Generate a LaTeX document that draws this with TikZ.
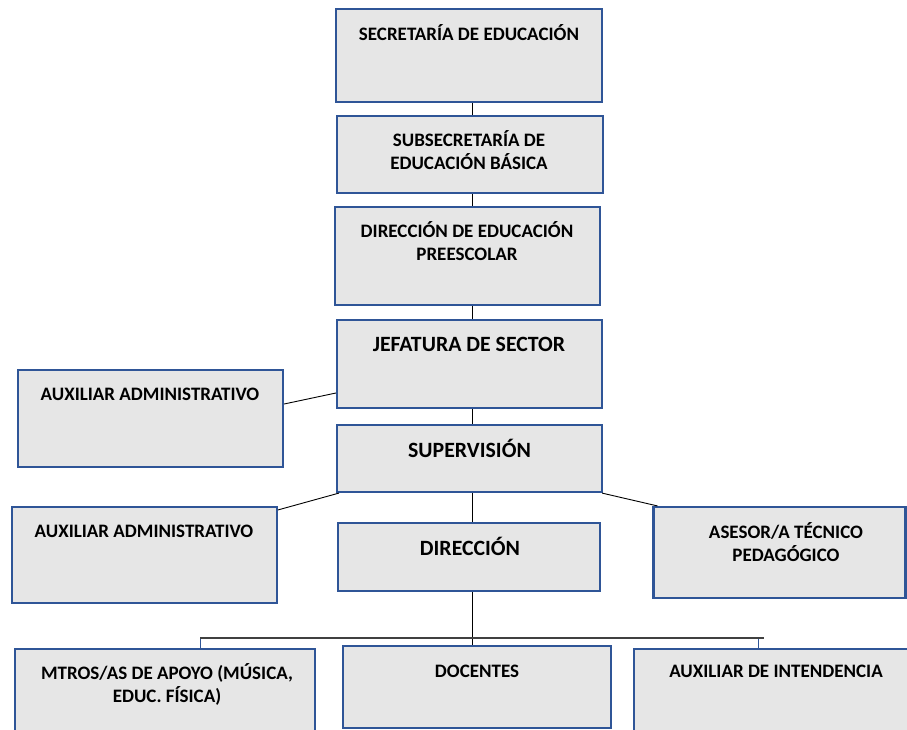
\documentclass[tikz,border=0pt]{standalone}
\usepackage{fontspec}
\setmainfont{Carlito}
\usetikzlibrary{calc}
\definecolor{boxfill}{HTML}{E6E6E6}
\definecolor{boxline}{HTML}{2F5597}
\definecolor{barcol}{HTML}{404040}
\begin{document}
\begin{tikzpicture}[x=1pt,y=-1pt,
  box/.style={draw=boxline,fill=boxfill,line width=2.2pt,rectangle,inner sep=0pt},
  lbl/.style={anchor=base,inner sep=0pt,align=center,font=\bfseries\fontsize{19}{22.5}\selectfont},
  biglbl/.style={anchor=base,inner sep=0pt,align=center,font=\bfseries\fontsize{21.8}{25}\selectfont},
  link/.style={draw=black,line width=0.9pt},
  tick/.style={draw=boxline,line width=0.8pt}]
\useasboundingbox (0,0) rectangle (907,729);
% boxes
\node[box,minimum width=266pt,minimum height=93pt] (b1) at (469,55.5) {};
\node[box,minimum width=266pt,minimum height=77pt] (b2) at (470,154.5) {};
\node[box,minimum width=265pt,minimum height=98pt] (b3) at (467.5,256) {};
\node[box,minimum width=265pt,minimum height=88pt] (b4) at (469.5,364) {};
\node[box,minimum width=265pt,minimum height=97pt] (a1) at (150.5,418.5) {};
\node[box,minimum width=265pt,minimum height=67pt] (b5) at (469.5,458.5) {};
\node[box,minimum width=265pt,minimum height=96pt] (a2) at (144.5,555) {};
\node[box,minimum width=262pt,minimum height=68pt] (b6) at (469,557) {};
\node[box,minimum width=252pt,minimum height=91pt] (a3) at (779.5,552.5) {};
\node[box,minimum width=300pt,minimum height=92pt] (c1) at (165,695) {};
\node[box,minimum width=268pt,minimum height=82pt] (c2) at (477,687) {};
\node[box,minimum width=276pt,minimum height=92pt] (c3) at (772,695) {};
% labels (anchor base = baseline of the last line)
\node[lbl] (t1) at (469,40) {SECRETARÍA DE EDUCACIÓN};
\node[lbl] (t2) at (469,169) {SUBSECRETARÍA DE\\EDUCACIÓN BÁSICA};
\node[lbl] (t3) at (467,260) {DIRECCIÓN DE EDUCACIÓN\\PREESCOLAR};
\node[biglbl] (t4) at (469,351) {JEFATURA DE SECTOR};
\node[lbl] (ta1) at (150,400) {AUXILIAR ADMINISTRATIVO};
\node[biglbl] (t5) at (469.5,457) {SUPERVISIÓN};
\node[lbl] (ta2) at (144,537) {AUXILIAR ADMINISTRATIVO};
\node[biglbl] (t6) at (470,555) {DIRECCIÓN};
\node[lbl] (ta3) at (786,561) {ASESOR/A TÉCNICO\\PEDAGÓGICO};
\node[lbl] (tc1) at (167,702) {MTROS/AS DE APOYO (MÚSICA,\\EDUC. FÍSICA)};
\node[lbl] (tc2) at (477,677) {DOCENTES};
\node[lbl] (tc3) at (776,677) {AUXILIAR DE INTENDENCIA};
% connectors
\coordinate (spine) at (472.5,0);
\coordinate (barL) at (200,638);
\coordinate (barR) at (764,638);
\coordinate (tickR) at (758,638);
\draw[link] (b1.south -| spine) -- (b2.north -| spine);
\draw[link] (b2.south -| spine) -- (b3.north -| spine);
\draw[link] (b3.south -| spine) -- (b4.north -| spine);
\draw[link] (b4.south -| spine) -- (b5.north -| spine);
\draw[link] (b5.south -| spine) -- (b6.north -| spine);
\draw[link] (b6.south -| spine) -- (c2.north -| spine);
\draw[link] ([yshift=14.5pt]a1.east) -- ([yshift=-29pt]b4.west);
\draw[link] ([yshift=-4pt]a2.north east) -- ([xshift=3pt]b5.south west);
\draw[link] ([xshift=-1pt]b5.south east) -- ([xshift=5pt]a3.north west);
\draw[tick] (barL) -- (barL |- c1.north);
\draw[tick] (tickR) -- (tickR |- c3.north);
\draw[draw=barcol,line width=1.8pt] (barL) -- (barR);
\end{tikzpicture}
\end{document}
